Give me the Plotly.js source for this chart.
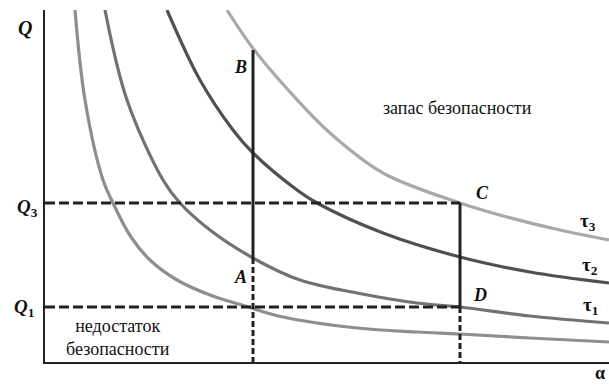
<!DOCTYPE html>
<html>
<head>
<meta charset="utf-8">
<script src="https://cdn.plot.ly/plotly-3.0.1.min.js"></script>
<style>
  html, body { margin: 0; padding: 0; background: #fff; }
  #chart { width: 609px; height: 385px; }
</style>
</head>
<body>
<div id="chart"></div>
<script>
'use strict';

// curves (alpha, Q in arbitrary units)
var lowAlpha = [30, 40, 58, 68, 86, 105, 132, 165, 200, 238, 312, 372, 415, 485, 564];
var lowQ     = [352, 262, 182, 159, 125, 102, 82, 67, 56, 45, 34, 30, 28, 24, 20];

var tau1Alpha = [60, 82, 118, 135, 165, 208, 255, 312, 372, 415, 485, 564];
var tau1Q     = [352, 262, 182, 159, 132, 104, 82, 69, 59, 55, 46, 39];

var tau2Alpha = [122, 155, 188, 208, 252, 272, 338, 415, 485, 564];
var tau2Q     = [352, 282, 232, 209, 172, 159, 129, 105, 90, 79];

var tau3Alpha = [182, 207, 245, 285, 338, 415, 462, 515, 564];
var tau3Q     = [352, 315, 270, 229, 189, 159, 145, 132, 122];

// marked points
var alphaA = 208, alphaC = 415;
var Q1 = 55, Q3 = 159;
var QA = 104, QB = 312;

var serif = '"Liberation Serif", "Times New Roman", serif';

function curve(x, y, color) {
  return {
    type: 'scatter', mode: 'lines', x: x, y: y,
    line: {color: color, width: 3.2, shape: 'spline', smoothing: 1},
    hoverinfo: 'skip'
  };
}
function seg(x, y, dash) {
  return {
    type: 'scatter', mode: 'lines', x: x, y: y,
    line: {color: '#222', width: 3, dash: dash},
    hoverinfo: 'skip'
  };
}

var data = [
  curve(lowAlpha, lowQ, '#8e8e8e'),
  curve(tau1Alpha, tau1Q, '#727272'),
  curve(tau2Alpha, tau2Q, '#505050'),
  curve(tau3Alpha, tau3Q, '#a9a9a9'),
  seg([0, alphaC], [Q3, Q3], '10px,4px'),
  seg([0, alphaC], [Q1, Q1], '10px,4px'),
  seg([alphaA, alphaA], [QB, QA], 'solid'),
  seg([alphaA, alphaA], [QA, 0], '6px,3px'),
  seg([alphaC, alphaC], [Q3, Q1], 'solid'),
  seg([alphaC, alphaC], [Q1, 0], '6px,3px')
];

// labels placed by page position (px from the top-left corner)
function lab(text, px, py, size) {
  return {
    text: text, xref: 'paper', yref: 'paper',
    x: (px - 45) / 564, y: (362 - py) / 352,
    showarrow: false, xanchor: 'center', yanchor: 'middle',
    font: {family: serif, size: size, color: '#111'}
  };
}

var annotations = [
  lab('<b><i>Q</i></b>', 25, 28, 20),
  lab('<b><i>Q</i><sub>3</sub></b>', 27, 208, 19),
  lab('<b><i>Q</i><sub>1</sub></b>', 24, 308, 19),
  lab('<b><i>B</i></b>', 240, 67, 18),
  lab('<b><i>A</i></b>', 240, 277, 18),
  lab('<b><i>C</i></b>', 482, 193, 18),
  lab('<b><i>D</i></b>', 480, 295, 18),
  lab('<b>τ<sub>3</sub></b>', 588, 222, 19),
  lab('<b>τ<sub>2</sub></b>', 590, 266, 19),
  lab('<b>τ<sub>1</sub></b>', 590, 306, 19),
  lab('<b>α</b>', 600, 373, 18),
  lab('запас безопасности', 457, 108, 18),
  lab('недостаток<br>безопасности', 118, 337, 18)
];

var layout = {
  width: 609, height: 385,
  margin: {l: 45, r: 0, t: 10, b: 23},
  paper_bgcolor: 'white', plot_bgcolor: 'white',
  showlegend: false,
  xaxis: {
    range: [0, 564], showgrid: false, zeroline: false,
    showline: true, linecolor: '#222', linewidth: 2,
    showticklabels: false, ticks: '', fixedrange: true
  },
  yaxis: {
    range: [0, 352], showgrid: false, zeroline: false,
    showline: true, linecolor: '#222', linewidth: 2,
    showticklabels: false, ticks: '', fixedrange: true
  },
  annotations: annotations
};

Plotly.newPlot('chart', data, layout, {displayModeBar: false, staticPlot: true});
</script>
</body>
</html>
